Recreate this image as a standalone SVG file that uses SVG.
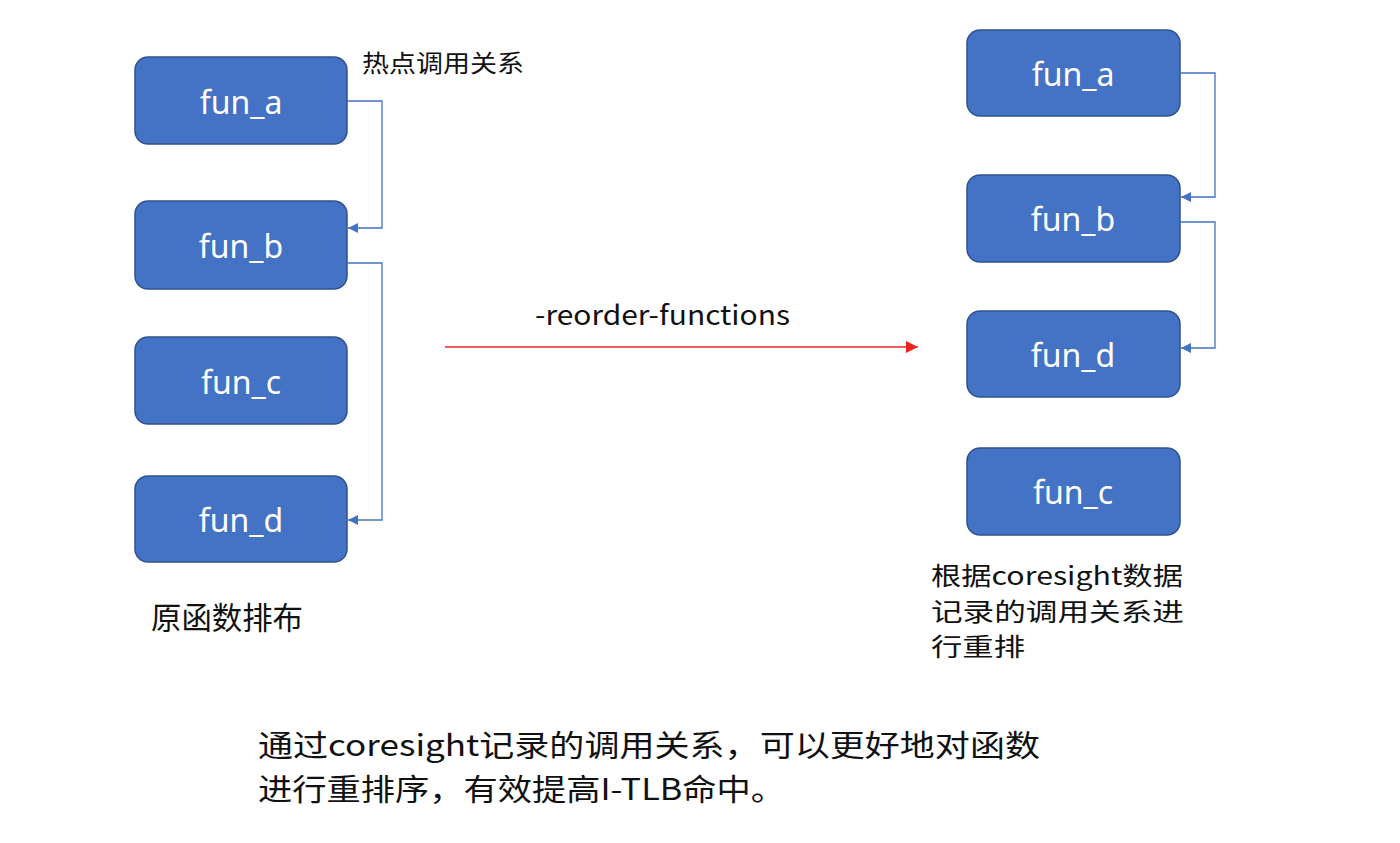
<svg xmlns="http://www.w3.org/2000/svg" width="1400" height="843" viewBox="0 0 1400 843">
<style>
.box{fill:#4472C4;stroke:#2F528F;stroke-width:1.5}
.bt{fill:#fff;font-family:"Noto Sans","Noto Sans CJK SC",sans-serif;font-size:32px;text-anchor:middle;dominant-baseline:central}
.t{fill:#111;font-family:"Noto Sans CJK SC","Noto Sans",sans-serif}
.c{fill:none;stroke:#4472C4;stroke-width:1.3}
</style>
<defs>
<marker id="ab" viewBox="0 0 10 10" refX="10" refY="5" markerWidth="10" markerHeight="10" markerUnits="userSpaceOnUse" orient="auto"><path d="M0,0L10,5L0,10z" fill="#4472C4"/></marker>
<marker id="ar" viewBox="0 0 10 10" refX="10" refY="5" markerWidth="12" markerHeight="12" markerUnits="userSpaceOnUse" orient="auto"><path d="M0,0L10,5L0,10z" fill="#EE2222"/></marker>
</defs>
<rect width="1400" height="843" fill="#fff"/>
<g id="L_fun_a"><rect class="box" x="135" y="57" width="212" height="87" rx="13"/><text class="bt" x="241" y="101">fun_a</text></g>
<g id="L_fun_b"><rect class="box" x="135" y="201" width="212" height="88" rx="13"/><text class="bt" x="241" y="245">fun_b</text></g>
<g id="L_fun_c"><rect class="box" x="135" y="337" width="212" height="87" rx="13"/><text class="bt" x="241" y="381">fun_c</text></g>
<g id="L_fun_d"><rect class="box" x="135" y="476" width="212" height="86" rx="13"/><text class="bt" x="241" y="519">fun_d</text></g>
<g id="R_fun_a"><rect class="box" x="967" y="30" width="213" height="86" rx="13"/><text class="bt" x="1073" y="73">fun_a</text></g>
<g id="R_fun_b"><rect class="box" x="967" y="175" width="213" height="87" rx="13"/><text class="bt" x="1073" y="218">fun_b</text></g>
<g id="R_fun_d"><rect class="box" x="967" y="311" width="213" height="86" rx="13"/><text class="bt" x="1073" y="354">fun_d</text></g>
<g id="R_fun_c"><rect class="box" x="967" y="448" width="213" height="87" rx="13"/><text class="bt" x="1073" y="491">fun_c</text></g>
<g id="connectors">
<path class="c" d="M347,101H382V228H348" marker-end="url(#ab)"/>
<path class="c" d="M347,263H382V520H348" marker-end="url(#ab)"/>
<path class="c" d="M1180,73H1215V197H1181" marker-end="url(#ab)"/>
<path class="c" d="M1180,222H1215V348H1181" marker-end="url(#ab)"/>
<path d="M445,347H918" stroke="#EE2222" stroke-width="1.3" fill="none" marker-end="url(#ar)"/>
</g>
<g id="labels">
<text class="t" x="362" y="72" font-size="24" textLength="162" lengthAdjust="spacingAndGlyphs">热点调用关系</text>
<text class="t" x="535" y="325" font-size="27" textLength="255" lengthAdjust="spacingAndGlyphs">-reorder-functions</text>
<text class="t" x="151" y="629" font-size="31" textLength="152" lengthAdjust="spacingAndGlyphs">原函数排布</text>
<text class="t" x="931" y="585" font-size="25" textLength="252" lengthAdjust="spacingAndGlyphs">根据coresight数据</text>
<text class="t" x="931" y="621" font-size="25" textLength="253" lengthAdjust="spacingAndGlyphs">记录的调用关系进</text>
<text class="t" x="931" y="656" font-size="25" textLength="94" lengthAdjust="spacingAndGlyphs">行重排</text>
<text class="t" x="258" y="756" font-size="30" textLength="782" lengthAdjust="spacingAndGlyphs">通过coresight记录的调用关系，可以更好地对函数</text>
<text class="t" x="258" y="800" font-size="30" textLength="527" lengthAdjust="spacingAndGlyphs">进行重排序，有效提高I-TLB命中。</text>
</g>
</svg>
